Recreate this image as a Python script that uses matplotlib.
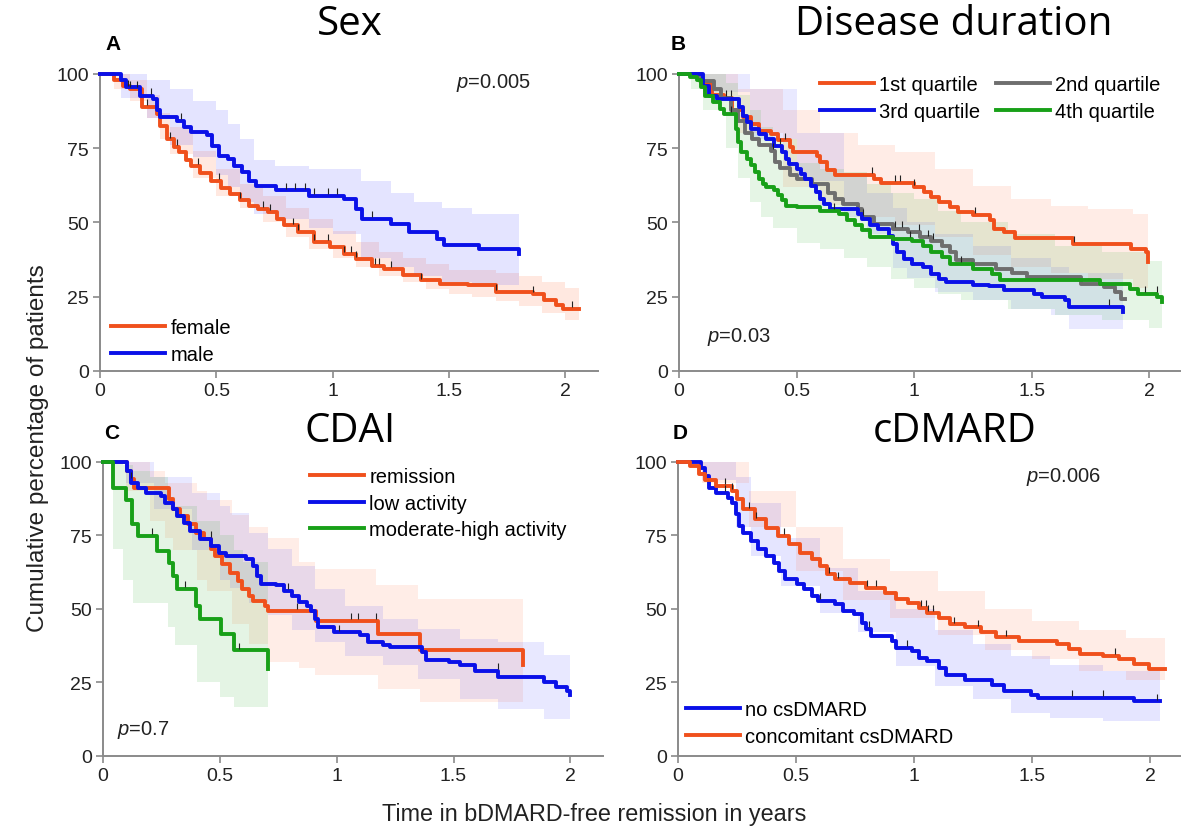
import numpy as np
import matplotlib.pyplot as plt

plt.rcParams['font.family'] = ['Liberation Sans', 'DejaVu Sans']
plt.rcParams['mathtext.fontset'] = 'custom'
plt.rcParams['mathtext.rm'] = 'Liberation Sans'
plt.rcParams['mathtext.it'] = 'Liberation Sans:italic'

ORANGE = '#f0501c'
BLUE = '#0a10e8'
GREEN = '#18a018'
GRAY = '#6e6e6e'

# ---- A: sex ----
fem_t = [0, 0.06, 0.10, 0.13, 0.18, 0.245, 0.26, 0.29, 0.32, 0.34, 0.37, 0.39, 0.43, 0.475, 0.52, 0.56,
         0.60, 0.64, 0.68, 0.72, 0.76, 0.79, 0.85, 0.92, 0.99, 1.05, 1.10, 1.17, 1.22, 1.30, 1.38, 1.46,
         1.58, 1.70, 1.86, 1.91, 1.96, 1.99, 2.06]
fem_v = [100, 98, 96, 95, 89, 86.5, 82.6, 78, 75.5, 73.6, 71, 69, 66.5, 64, 61.5, 59.6,
         57.5, 55.7, 54.5, 53.5, 51, 49, 46.7, 43.4, 41.7, 39.5, 37.8, 35.5, 34.4, 32.2, 30.5, 29.4,
         28.8, 26.6, 26, 23.8, 22.3, 21, 21]
fem_bt = [0, 0.06, 0.13, 0.2, 0.26, 0.3, 0.4, 0.5, 0.6, 0.7, 0.8, 0.9, 1.0, 1.1, 1.2, 1.3, 1.4, 1.5,
          1.6, 1.7, 1.8, 1.9, 2.0, 2.06]
fem_lo = [100, 95, 91, 85, 78, 73, 65, 59, 55, 50, 45, 41, 38, 35, 32, 30, 27.5, 26, 25, 23.5, 22, 19.5, 17, 17]
fem_hi = [100, 100, 98, 93, 87, 82, 74, 68, 63, 59, 55, 51, 47, 43.5, 40, 38, 36, 34, 34, 33, 32, 30, 28, 28]
fem_cens = [0.13, 0.16, 0.2, 0.3, 0.33, 0.42, 0.51, 0.6, 0.7, 0.73, 0.83, 0.85, 0.92, 0.98, 1.05,
            1.08, 1.1, 1.18, 1.2, 1.25, 1.38, 1.7, 1.86, 2.03]

male_t = [0, 0.09, 0.11, 0.17, 0.23, 0.245, 0.26, 0.33, 0.36, 0.39, 0.46, 0.48, 0.51, 0.55, 0.575,
          0.61, 0.64, 0.67, 0.755, 0.9, 1.05, 1.10, 1.125, 1.25, 1.33, 1.45, 1.48, 1.63, 1.80]
male_v = [100, 98, 95.5, 92.7, 91.6, 88, 85.4, 84.3, 82, 80.4, 79.3, 75.9, 72.5, 71.4, 69,
          67, 64, 62.4, 60.8, 59, 58, 54.6, 51.2, 49.6, 46.7, 44.5, 42.5, 41.1, 39.5]
male_bt = [0, 0.09, 0.2, 0.3, 0.4, 0.5, 0.55, 0.6, 0.66, 0.75, 0.9, 1.0, 1.12, 1.25, 1.35, 1.47, 1.6, 1.8]
male_lo = [100, 92, 85, 76, 72, 66, 62, 57, 53, 51, 48, 46, 38, 35, 32, 30, 29, 29]
male_hi = [100, 100, 98, 95, 91, 88, 83, 78, 71, 69, 68, 68, 64, 60, 57, 55, 53, 52]
male_cens = [0.12, 0.22, 0.35, 0.8, 0.84, 0.88, 0.92, 0.98, 1.02, 1.17]

# ---- B: disease duration quartiles ----
q1_t = [0, 0.095, 0.14, 0.19, 0.225, 0.27, 0.305, 0.34, 0.39, 0.42, 0.47, 0.485, 0.585, 0.6, 0.63, 0.665,
        0.83, 0.86, 1.0, 1.04, 1.07, 1.105, 1.15, 1.185, 1.25, 1.32, 1.34, 1.38, 1.43, 1.675, 1.92, 1.985, 1.995]
q1_v = [100, 97, 93, 92, 88, 85.4, 83, 80.9, 79.8, 77.6, 75.3, 73.6, 72.5, 70.3, 67.5, 66,
        64.7, 63.2, 61.9, 60.2, 58.5, 56.8, 55.2, 53.5, 52.5, 50.7, 47.9, 46.7, 44.7, 42.8, 41.1, 40, 36.7]
q1_bt = [0, 0.1, 0.25, 0.44, 0.6, 0.76, 0.92, 1.09, 1.25, 1.41, 1.58, 1.74, 1.93, 1.995]
q1_lo = [100, 92, 80, 62, 56, 52, 49, 45, 39, 35, 33, 31, 28, 28]
q1_hi = [100, 100, 95, 88, 80, 76, 73.6, 68, 62.4, 58, 55.7, 54.6, 53, 53]
q1_cens = [0.22, 0.45, 0.82, 0.92, 0.94, 1.0, 1.26, 1.68]

q2_t = [0, 0.09, 0.15, 0.18, 0.22, 0.25, 0.28, 0.31, 0.34, 0.39, 0.41, 0.43, 0.47, 0.5, 0.567, 0.632,
        0.664, 0.697, 0.762, 0.778, 0.827, 0.909, 0.974, 1.023, 1.072, 1.12, 1.153, 1.177, 1.25, 1.349,
        1.414, 1.479, 1.707, 1.805, 1.853, 1.878, 1.895]
q2_v = [100, 97.5, 95, 92, 88, 84, 80, 78, 76, 74, 70.3, 68.5, 66, 64.7, 63, 60,
        58, 56.3, 54.6, 51.8, 49.6, 47.9, 46.7, 45, 43.9, 42.2, 40, 37.2, 36.1, 34.4,
        33, 31.6, 29.4, 28.3, 26.6, 24.3, 24.3]
q2_cens = [0.2, 0.4, 0.78, 0.92, 0.95, 1.02, 1.06, 1.08]

q3_t = [0, 0.103, 0.127, 0.16, 0.257, 0.274, 0.29, 0.306, 0.339, 0.371, 0.404, 0.436, 0.453, 0.469,
        0.502, 0.518, 0.534, 0.559, 0.583, 0.6, 0.616, 0.64, 0.762, 0.778, 0.811, 0.844, 0.893, 0.909,
        0.925, 0.958, 0.99, 1.039, 1.072, 1.104, 1.137, 1.251, 1.316, 1.381, 1.511, 1.544, 1.642, 1.658, 1.886]
q3_v = [100, 96, 92.7, 91.6, 88.8, 86, 83.7, 81.5, 79.8, 78, 75.8, 73.6, 71.4, 69.7,
        68, 66.4, 64.7, 62.4, 60.2, 58, 56.3, 54.6, 52.9, 51.2, 49, 47.9, 45.6, 42.8,
        40, 37.8, 36.1, 35, 32.7, 31, 29.9, 29.1, 28.6, 27.1, 26, 24.9, 23.8, 21.5, 19.8]
q3_bt = [0, 0.1, 0.3, 0.5, 0.7, 0.8, 0.91, 0.97, 1.09, 1.25, 1.41, 1.58, 1.66, 1.886]
q3_lo = [100, 94, 78, 64, 52, 46, 34.6, 31.2, 26.6, 23.8, 21, 18.7, 14.2, 12]
q3_hi = [100, 100, 95, 80, 66, 60, 55, 50, 46, 42, 38, 35, 33, 32]
q3_cens = [0.43, 1.83]

q4_t = [0, 0.046, 0.078, 0.094, 0.111, 0.143, 0.176, 0.192, 0.241, 0.249, 0.265, 0.29, 0.306, 0.322,
        0.339, 0.355, 0.371, 0.404, 0.42, 0.436, 0.453, 0.502, 0.599, 0.681, 0.713, 0.746, 0.778, 0.811,
        0.909, 0.99, 1.039, 1.072, 1.12, 1.153, 1.251, 1.332, 1.365, 1.788, 1.919, 1.951, 2.033, 2.055]
q4_v = [100, 99, 97.8, 95.5, 92.7, 90.5, 88.2, 86.5, 81.5, 77, 73.6, 71.4, 69.2, 67,
        64.7, 63, 61.9, 60.8, 59.1, 57.4, 55.7, 55.2, 54, 52.9, 50.7, 49, 47.3, 45,
        44.5, 43.9, 42.2, 40, 38.3, 36.1, 34.4, 32.7, 30.5, 29.4, 27.7, 26, 24.9, 23.2]
q4_bt = [0, 0.05, 0.1, 0.2, 0.25, 0.3, 0.35, 0.4, 0.5, 0.6, 0.7, 0.8, 0.9, 1.0, 1.1, 1.2, 1.4,
         1.6, 1.8, 2.0, 2.055]
q4_lo = [100, 95, 88, 75, 65, 57, 52, 48, 43, 41, 38, 35, 31, 28, 26, 24, 21, 19, 17, 14.5, 14.5]
q4_hi = [100, 100, 100, 97, 93, 88, 82, 78, 70, 68, 67, 63, 60, 58, 54, 50, 46, 42, 40, 37, 36]
q4_cens = [0.22, 0.66, 0.98, 1.2, 1.98, 2.03]

# ---- C: CDAI ----
rem_t = [0, 0.102, 0.118, 0.134, 0.282, 0.298, 0.331, 0.364, 0.397, 0.43, 0.462, 0.479, 0.511, 0.544,
         0.577, 0.593, 0.626, 0.643, 0.692, 0.708, 0.913, 1.175, 1.356, 1.798]
rem_v = [100, 97.1, 94.1, 91.3, 87.3, 84, 81.7, 78.8, 76, 73.8, 70.4, 68.1, 65.3, 62.4,
         59.6, 56.8, 54.5, 52.8, 51.1, 49.3, 46, 41.6, 36, 31]
rem_bt = [0, 0.1, 0.2, 0.266, 0.3, 0.4, 0.446, 0.55, 0.626, 0.708, 0.839, 0.905, 1.167, 1.175, 1.348, 1.356, 1.798]
rem_lo = [100, 90, 80, 74, 70, 60, 56, 45, 38, 32, 30, 27.4, 27.4, 22.9, 22.9, 18.3, 18.3]
rem_hi = [100, 100, 97, 93, 93, 90, 87, 82, 78, 74, 66, 63.6, 58, 58, 53.4, 53.4, 53.4]
rem_cens = [0.12, 0.83, 1.06, 1.09, 1.17]

low_t = [0, 0.102, 0.118, 0.151, 0.184, 0.249, 0.266, 0.298, 0.315, 0.348, 0.372, 0.413, 0.462, 0.495,
         0.528, 0.61, 0.643, 0.659, 0.675, 0.741, 0.774, 0.807, 0.839, 0.872, 0.888, 0.905, 0.921, 0.987,
         1.1, 1.133, 1.2, 1.23, 1.364, 1.38, 1.479, 1.528, 1.593, 1.692, 1.889, 1.938, 1.987, 2.0]
low_v = [100, 97, 93, 91.3, 89.6, 88.5, 86.2, 84, 81.7, 79.4, 76.6, 73.8, 71.5, 69.2,
         68.1, 67, 64.7, 61.3, 58.5, 58, 56.2, 54.5, 52.3, 51.1, 49.3, 46.6, 43.8, 42,
         41, 38.7, 37.6, 37, 35.3, 32.5, 31.9, 30.8, 29, 26.7, 25.1, 23.4, 22, 20.6]
low_bt = [0, 0.1, 0.216, 0.38, 0.5, 0.544, 0.626, 0.708, 0.807, 0.905, 1.036, 1.2, 1.348, 1.364,
          1.528, 1.692, 1.889, 2.0]
low_lo = [100, 93, 84, 70, 60, 57, 52, 48, 43, 38.7, 34, 30.8, 26.2, 26.2, 19.5, 16, 12.7, 11.5]
low_hi = [100, 100, 95, 89.6, 85, 82.8, 76, 70.4, 64.7, 56.8, 51, 46.6, 43.2, 43.2, 39.8, 38.7, 34.2, 34.2]
low_cens = [0.46, 0.79, 1.01, 1.69]

mod_t = [0, 0.044, 0.098, 0.126, 0.151, 0.233, 0.282, 0.298, 0.315, 0.397, 0.413, 0.503, 0.561, 0.708]
mod_v = [100, 91.3, 87, 78.8, 74.9, 69.8, 65.8, 61.3, 56.8, 51.1, 46.6, 41.5, 35.9, 29.6]
mod_bt = [0, 0.044, 0.085, 0.13, 0.2, 0.28, 0.31, 0.4, 0.5, 0.56, 0.6, 0.708]
mod_lo = [100, 70.4, 60, 52, 52, 44, 37.6, 25, 20, 16.6, 16.6, 16.6]
mod_hi = [100, 100, 99, 97, 95, 88, 85, 80, 75, 70, 66, 60]
mod_cens = [0.21, 0.35, 0.58]

# ---- D: csDMARD ----
no_t = [0, 0.097, 0.114, 0.13, 0.162, 0.211, 0.227, 0.244, 0.26, 0.276, 0.308, 0.341, 0.373, 0.406,
        0.43, 0.455, 0.503, 0.536, 0.568, 0.593, 0.666, 0.698, 0.747, 0.779, 0.795, 0.82, 0.909, 0.925,
        0.99, 1.023, 1.055, 1.104, 1.136, 1.218, 1.331, 1.38, 1.494, 1.526, 1.932, 2.042]
no_v = [100, 98, 95.2, 91.3, 89.6, 87.9, 86.2, 82.3, 78.2, 76, 73.1, 70.3, 68, 65.8,
        62.9, 60.1, 58.4, 56.7, 54.4, 52.7, 51.6, 49.3, 48.2, 45.4, 43.1, 40.8, 39.1, 36.8,
        35.7, 33.4, 32.3, 30, 27.7, 26, 24.3, 22, 20.9, 19.7, 18.6, 18.6]
no_bt = [0, 0.1, 0.244, 0.308, 0.438, 0.6, 0.763, 0.925, 1.088, 1.25, 1.41, 1.575, 1.8, 2.042]
no_lo = [100, 94, 78, 68, 57.8, 48.8, 42, 30.6, 23.8, 19.3, 14.7, 13, 12, 11.3]
no_hi = [100, 100, 95, 86, 74, 64, 56, 50, 43, 38, 34, 31, 29, 27]
no_cens = [0.2, 0.6, 0.81, 0.97, 1.67, 1.8, 2.03]

con_t = [0, 0.049, 0.089, 0.114, 0.162, 0.227, 0.252, 0.276, 0.325, 0.373, 0.422, 0.471, 0.519, 0.568,
         0.601, 0.633, 0.666, 0.731, 0.795, 0.877, 0.925, 0.974, 1.023, 1.055, 1.104, 1.153, 1.218, 1.282,
         1.347, 1.445, 1.607, 1.656, 1.705, 1.802, 1.867, 1.932, 1.997, 2.062]
con_v = [100, 98.6, 95.8, 94, 91.8, 90.1, 87.3, 83.9, 80.5, 77.7, 74.8, 72, 69.2, 66.9,
         64.6, 61.8, 60.1, 59, 57.3, 55.6, 53.3, 52.2, 50.5, 48.8, 47.1, 44.8, 43.7, 42,
         40.3, 39.1, 38, 36.3, 34.6, 34, 32.9, 31.2, 29.5, 29.5]
con_bt = [0, 0.1, 0.3, 0.5, 0.7, 0.9, 1.1, 1.3, 1.5, 1.7, 1.9, 2.062]
con_lo = [100, 93, 78, 63, 53, 47, 41, 36, 33, 29, 26, 23]
con_hi = [100, 100, 90, 78, 67, 63, 56, 50, 46, 43, 40, 37]
con_cens = [0.2, 0.23, 0.3, 0.33, 0.45, 0.64, 0.68, 0.8, 0.84, 1.03, 1.05, 1.06, 1.08, 1.17,
            1.27, 1.39, 1.85]

TICK_UP = [(0, 0), (0, 1)]


def band(ax, t, lo, hi, color, alpha=0.14):
    ax.fill_between(t, lo, hi, step='post', color=color, alpha=alpha, linewidth=0, zorder=1)


def km(ax, t, v, color, cens, label):
    t = np.asarray(t, float)
    v = np.asarray(v, float)
    ax.step(t, v, where='post', color=color, lw=2.8, label=label, zorder=3, clip_on=False)
    # censoring marks sit on top of the curve
    idx = np.searchsorted(t, cens, side='right') - 1
    ax.plot(cens, v[idx] + 0.6, ls='none', marker=TICK_UP, ms=8, mew=0.8, color='#222222', zorder=4)


def style(ax, xmax):
    ax.set_xlim(0, xmax)
    ax.set_ylim(0, 100)
    for s in ['top', 'right']:
        ax.spines[s].set_visible(False)
    for s in ['left', 'bottom']:
        ax.spines[s].set_color('#8a8a8a')
        ax.spines[s].set_linewidth(1.4)
    ax.set_xticks([0, 0.5, 1, 1.5, 2])
    ax.set_xticklabels(['0', '0.5', '1', '1.5', '2'])
    ax.set_yticks([0, 25, 50, 75, 100])
    ax.tick_params(length=5, width=1.2, color='#8a8a8a', labelsize=14, labelcolor='#222222', pad=3)


fig = plt.figure(figsize=(11.83, 8.29), dpi=100)
axA = fig.add_axes([0.0845, 0.5513, 0.421, 0.3583])
axB = fig.add_axes([0.574, 0.5513, 0.4235, 0.3583])
axC = fig.add_axes([0.0871, 0.0869, 0.4227, 0.3546])
axD = fig.add_axes([0.5731, 0.0869, 0.4243, 0.3546])

# A
band(axA, fem_bt, fem_lo, fem_hi, '#ff7040', 0.16)
band(axA, male_bt, male_lo, male_hi, '#3030ff', 0.13)
km(axA, fem_t, fem_v, ORANGE, fem_cens, 'female')
km(axA, male_t, male_v, BLUE, male_cens, 'male')
style(axA, 2.14)

# B
band(axB, q1_bt, q1_lo, q1_hi, '#ff7040', 0.13)
band(axB, q3_bt, q3_lo, q3_hi, '#3030ff', 0.10)
band(axB, q4_bt, q4_lo, q4_hi, '#30b030', 0.12)
km(axB, q1_t, q1_v, ORANGE, q1_cens, '1st quartile')
km(axB, q2_t, q2_v, GRAY, q2_cens, '2nd quartile')
km(axB, q3_t, q3_v, BLUE, q3_cens, '3rd quartile')
km(axB, q4_t, q4_v, GREEN, q4_cens, '4th quartile')
style(axB, 2.13)

# C
band(axC, rem_bt, rem_lo, rem_hi, '#ff7040', 0.12)
band(axC, low_bt, low_lo, low_hi, '#3030ff', 0.11)
band(axC, mod_bt, mod_lo, mod_hi, '#30b030', 0.13)
km(axC, rem_t, rem_v, ORANGE, rem_cens, 'remission')
km(axC, low_t, low_v, BLUE, low_cens, 'low activity')
km(axC, mod_t, mod_v, GREEN, mod_cens, 'moderate-high activity')
style(axC, 2.14)

# D
band(axD, no_bt, no_lo, no_hi, '#3030ff', 0.12)
band(axD, con_bt, con_lo, con_hi, '#ff7040', 0.13)
km(axD, no_t, no_v, BLUE, no_cens, 'no csDMARD')
km(axD, con_t, con_v, ORANGE, con_cens, 'concomitant csDMARD')
style(axD, 2.127)

leg_kw = dict(frameon=False, fontsize=14.5, handlelength=2.7, handletextpad=0.25,
              labelspacing=0.38, borderpad=0, borderaxespad=0, bbox_transform=fig.transFigure,
              loc='upper left')
axA.legend(bbox_to_anchor=(111 / 1183, 1 - 319 / 829), **leg_kw)
hB, lB = axB.get_legend_handles_labels()
order = [0, 2, 1, 3]
axB.legend([hB[i] for i in order], [lB[i] for i in order], ncol=2, columnspacing=0.75,
           bbox_to_anchor=(820 / 1183, 1 - 76 / 829), **leg_kw)
axC.legend(bbox_to_anchor=(310 / 1183, 1 - 468 / 829), **leg_kw)
axD.legend(bbox_to_anchor=(686 / 1183, 1 - 701 / 829), **leg_kw)

# p-values
fig.text(531 / 1183, 1 - 83 / 829, '$p$=0.005', ha='right', va='center', fontsize=14.5, color='#222222')
fig.text(707 / 1183, 1 - 337 / 829, '$p$=0.03', ha='left', va='center', fontsize=14.5, color='#222222')
fig.text(117 / 1183, 1 - 730 / 829, '$p$=0.7', ha='left', va='center', fontsize=14.5, color='#222222')
fig.text(1101 / 1183, 1 - 477 / 829, '$p$=0.006', ha='right', va='center', fontsize=14.5, color='#222222')

# panel letters
for x, y, s in [(105, 45, 'A'), (671, 44, 'B'), (104, 434, 'C'), (673, 434, 'D')]:
    fig.text(x / 1183, 1 - y / 829, s, fontsize=15, fontweight='bold', ha='left', va='center')

# panel titles
for x, y, s in [(350, 25, 'Sex'), (954, 25, 'Disease duration'), (350, 432, 'CDAI'), (955, 432, 'cDMARD')]:
    fig.text(x / 1183, 1 - y / 829, s, fontsize=29, family='Open Sans', ha='center', va='center')

fig.text(38 / 1183, 1 - 448 / 829, 'Cumulative percentage of patients', rotation=90,
         ha='center', va='center', fontsize=17.5, color='#222222')
fig.text(594 / 1183, 1 - 815 / 829, 'Time in bDMARD-free remission in years',
         ha='center', va='center', fontsize=16.8, color='#222222')

fig.savefig('out.png', dpi=100)
